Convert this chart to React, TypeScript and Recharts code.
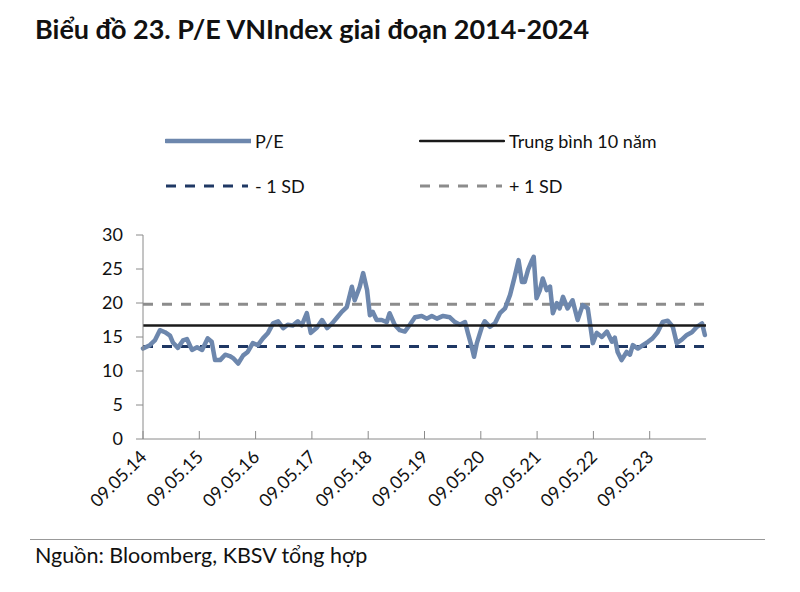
import React from "react";
import { LineChart, Line, XAxis, YAxis, ReferenceLine } from "recharts";

// x ticks: one per year, starting 09.05.14
const tickLabels = [
  "09.05.14", "09.05.15", "09.05.16", "09.05.17", "09.05.18",
  "09.05.19", "09.05.20", "09.05.21", "09.05.22", "09.05.23",
];
const yTicks = [0, 5, 10, 15, 20, 25, 30];

// years since 09.05.14
const peYears = [
  0.0, 0.12, 0.21, 0.3, 0.39, 0.48, 0.53, 0.62, 0.71, 0.78, 0.87, 0.96,
  1.05, 1.15, 1.22, 1.28, 1.37, 1.46, 1.54, 1.6, 1.69, 1.78, 1.86, 1.95,
  2.04, 2.13, 2.22, 2.31, 2.4, 2.49, 2.57, 2.66, 2.75, 2.82, 2.91, 2.98,
  3.09, 3.18, 3.27, 3.36, 3.44, 3.53, 3.62, 3.71, 3.76, 3.85, 3.91, 3.98,
  4.03, 4.08, 4.15, 4.24, 4.33, 4.38, 4.47, 4.56, 4.65, 4.74, 4.83, 4.95,
  5.04, 5.13, 5.22, 5.33, 5.45, 5.54, 5.63, 5.72, 5.77, 5.84, 5.88, 5.93,
  6.02, 6.07, 6.16, 6.25, 6.34, 6.43, 6.52, 6.6, 6.67, 6.73, 6.78, 6.84,
  6.91, 6.94, 6.99, 7.05, 7.1, 7.17, 7.23, 7.28, 7.35, 7.4, 7.46, 7.54,
  7.63, 7.72, 7.81, 7.9, 7.99, 8.06, 8.15, 8.24, 8.33, 8.38, 8.43, 8.5,
  8.59, 8.65, 8.7, 8.79, 8.88, 8.97, 9.05, 9.14, 9.23, 9.32, 9.41, 9.48,
  9.57, 9.66, 9.75, 9.84, 9.93, 9.98,
];
const peValues = [
  13.3, 13.8, 14.5, 16.0, 15.7, 15.2, 14.2, 13.4, 14.5, 14.7, 13.1, 13.5,
  13.1, 14.8, 14.3, 11.6, 11.6, 12.4, 12.2, 11.9, 11.1, 12.3, 12.8, 14.1,
  13.8, 14.8, 15.6, 17.0, 17.3, 16.3, 16.8, 16.7, 17.3, 16.7, 18.5, 15.6,
  16.4, 17.5, 16.3, 17.0, 17.8, 18.7, 19.4, 22.4, 20.4, 22.4, 24.4, 21.9,
  18.2, 18.7, 17.5, 17.5, 17.2, 18.5, 16.8, 16.0, 15.8, 16.8, 17.9, 18.1,
  17.7, 18.1, 17.7, 18.1, 17.9, 17.2, 16.8, 17.2, 15.6, 13.5, 12.1, 14.1,
  16.5, 17.3, 16.5, 17.0, 18.5, 19.2, 21.2, 23.8, 26.3, 23.1, 23.1, 24.9,
  26.3, 26.8, 20.7, 21.9, 23.6, 21.9, 22.4, 18.5, 20.0, 19.2, 20.9, 19.2,
  20.4, 17.5, 19.7, 19.2, 14.1, 15.6, 15.0, 15.8, 14.3, 14.9, 12.8, 11.6,
  12.8, 12.4, 13.8, 13.3, 13.8, 14.3, 14.8, 15.7, 17.2, 17.4, 16.5, 14.1,
  14.6, 15.3, 15.7, 16.5, 17.0, 15.3,
];

const peMean = 16.7;
const peMinus1Sd = 13.6;
const pePlus1Sd = 19.8;

const data = peYears.map((t, i) => ({ t, pe: peValues[i] }));

const FONT = "Lato, 'Noto Sans', sans-serif";
const PE_COLOR = "#6d87ad";
const NAVY = "#1f3864";
const GREY = "#8c8c8c";
const AXIS = "#8a8a8a";

function DateTick({ x, y, payload }: any) {
  const tx = x + 5;
  const ty = y + 19;
  return (
    <g>
      <line x1={x} y1={y - 8} x2={x} y2={y} stroke={AXIS} strokeWidth={1} />
      <text
        x={tx}
        y={ty}
        textAnchor="end"
        fontSize={18}
        fontFamily={FONT}
        fill="#111"
        transform={`rotate(-45 ${tx} ${ty})`}
      >
        {tickLabels[payload.value]}
      </text>
    </g>
  );
}

function LegendItem({ left, top, color, width, dash, label }: any) {
  return (
    <div style={{ position: "absolute", left, top, display: "flex", alignItems: "center" }}>
      <svg width={86} height={10}>
        <line x1={1} y1={5} x2={1 + width} y2={5} stroke={color} strokeWidth={dash ? 3 : width > 84 ? 4.5 : 2.5}
          strokeDasharray={dash} strokeLinecap={dash ? "butt" : "round"} />
      </svg>
      <span style={{ marginLeft: 4, fontSize: 18, fontFamily: FONT, color: "#111", lineHeight: "20px" }}>{label}</span>
    </div>
  );
}

export default function App() {
  return (
    <div style={{ position: "absolute", left: 0, top: 0, width: 800, height: 592, background: "#fff" }}>
      <div style={{ position: "absolute", left: 35, top: 12, fontSize: 27, fontWeight: 700, fontFamily: FONT, color: "#111" }}>
        Biểu đồ 23. P/E VNIndex giai đoạn 2014-2024
      </div>

      <LegendItem left={165} top={131} color={PE_COLOR} width={85} label="P/E" />
      <LegendItem left={419} top={131} color="#1a1a1a" width={84} label="Trung bình 10 năm" />
      <LegendItem left={165} top={176} color={NAVY} width={82} dash="10 9" label="- 1 SD" />
      <LegendItem left={419} top={176} color={GREY} width={82} dash="10 9" label="+ 1 SD" />

      <div style={{ position: "absolute", left: 0, top: 0 }}>
        <LineChart width={800} height={592} data={data} margin={{ top: 235, right: 94, bottom: 93, left: 0 }}>
          <XAxis
            dataKey="t"
            type="number"
            domain={[0, 10]}
            ticks={[0, 1, 2, 3, 4, 5, 6, 7, 8, 9]}
            height={60}
            axisLine={{ stroke: AXIS }}
            tickLine={false}
            tickSize={0}
            tickMargin={0}
            tick={<DateTick />}
            interval={0}
          />
          <YAxis
            type="number"
            domain={[0, 30]}
            ticks={yTicks}
            width={143}
            axisLine={{ stroke: AXIS }}
            tickLine={{ stroke: AXIS }}
            tickSize={7}
            tickMargin={13}
            tick={{ fontSize: 18, fontFamily: FONT, fill: "#111" }}
            interval={0}
          />
          <ReferenceLine y={pePlus1Sd} stroke={GREY} strokeWidth={3} strokeDasharray="10 9" />
          <ReferenceLine y={peMinus1Sd} stroke={NAVY} strokeWidth={3} strokeDasharray="10 9" />
          <Line
            type="linear"
            dataKey="pe"
            stroke={PE_COLOR}
            strokeWidth={4.5}
            dot={false}
            strokeLinejoin="round"
            strokeLinecap="round"
            isAnimationActive={false}
          />
          <ReferenceLine y={peMean} stroke="#1a1a1a" strokeWidth={2.5} />
        </LineChart>
      </div>

      <div style={{ position: "absolute", left: 30, top: 539, width: 735, borderTop: "1px solid #999" }} />
      <div style={{ position: "absolute", left: 35, top: 542, fontSize: 21.5, fontFamily: FONT, color: "#111" }}>
        Nguồn: Bloomberg, KBSV tổng hợp
      </div>
    </div>
  );
}
